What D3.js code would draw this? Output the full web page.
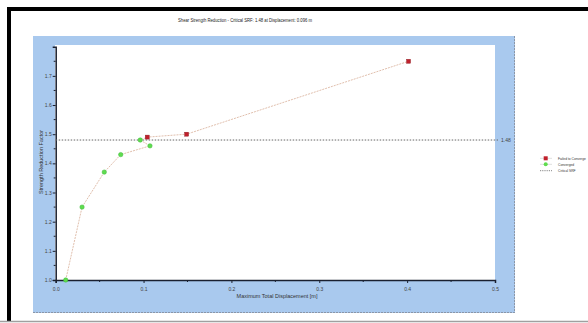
<!DOCTYPE html>
<html><head><meta charset="utf-8">
<script src="https://cdn.jsdelivr.net/npm/d3@7"></script>
<style>html,body{margin:0;padding:0;background:#fff;overflow:hidden}svg{display:block}text{font-family:"Liberation Sans",Arial,sans-serif}</style>
</head><body>
<script>
// Data (displacement in m, SRF), ordered by SRF
const disp   = [0.0114, 0.030, 0.0553, 0.074, 0.1073, 0.0962, 0.1042, 0.149, 0.4016];
const srf    = [1.00,   1.25,  1.37,   1.43,  1.46,   1.48,   1.49,   1.50,  1.75];
const status = ["Converged","Converged","Converged","Converged","Converged","Converged","Failed to Converge","Failed to Converge","Failed to Converge"];
const criticalSRF = 1.48;
const criticalDisp = 0.096;
const xTicks = [0.0, 0.1, 0.2, 0.3, 0.4, 0.5];
const yTicks = [1.0, 1.1, 1.2, 1.3, 1.4, 1.5, 1.6, 1.7];
const legendLabels = ["Failed to Converge", "Converged", "Critical SRF"];

const W = 588, H = 323;
const svg = d3.select("body").append("svg").attr("width", W).attr("height", H);

// frame
svg.append("line").attr("x1",7).attr("x2",W).attr("y1",9).attr("y2",9).attr("stroke","#000").attr("stroke-width",4);
svg.append("line").attr("x1",9).attr("x2",9).attr("y1",7).attr("y2",321).attr("stroke","#000").attr("stroke-width",4);
svg.append("line").attr("x1",0).attr("x2",W).attr("y1",321.5).attr("y2",321.5).attr("stroke","#a0a0a0").attr("stroke-width",1.5);

// blue panel
svg.append("rect").attr("x",33).attr("y",36).attr("width",482).attr("height",277).attr("fill","#a9c9ee");
svg.append("line").attr("x1",514.5).attr("x2",514.5).attr("y1",36).attr("y2",313).attr("stroke","#8a96a8").attr("stroke-dasharray","2,1");
svg.append("line").attr("x1",33).attr("x2",515).attr("y1",312.5).attr("y2",312.5).attr("stroke","#8a96a8").attr("stroke-dasharray","2,1");

const x = d3.scaleLinear().domain([0, 0.5]).range([55.7, 495]);
const y = d3.scaleLinear().domain([1.0, 1.8]).range([280, 46.7]);

// plot area
svg.append("rect").attr("x",55).attr("y",45).attr("width",440).attr("height",235).attr("fill","#fff");

// title
svg.append("text").attr("x",245).attr("y",22).attr("text-anchor","middle").attr("font-size",6).attr("fill","#222")
  .attr("textLength",134).attr("lengthAdjust","spacingAndGlyphs")
  .text(`Shear Strength Reduction - Critical SRF: ${criticalSRF.toFixed(2)} at Displacement: ${criticalDisp.toFixed(3)} m`);

// axes
const xAxis = d3.axisBottom(x).tickValues(xTicks).tickFormat(d3.format(".1f")).tickSize(3);
const gx = svg.append("g").attr("transform","translate(0,280)").call(xAxis);
const yAxis = d3.axisLeft(y).tickValues(yTicks).tickFormat(d3.format(".1f")).tickSize(3);
const gy = svg.append("g").attr("transform","translate(55.7,0)").call(yAxis);
[gx, gy].forEach(g => {
  g.select(".domain").attr("stroke","#1a2030").attr("stroke-width",1.5);
  g.selectAll(".tick line").attr("stroke","#1a2030");
  g.selectAll(".tick text").attr("font-size",5).attr("fill","#444").attr("font-family","Liberation Sans, Arial");
});
gx.selectAll(".tick text").attr("dy","0.9em");
gy.selectAll(".tick text").attr("x",-4);
// minor ticks
const xMinor = xTicks.slice(0,-1).map(v => v + 0.05);
svg.append("g").selectAll("line").data(xMinor).join("line")
  .attr("x1",d=>x(d)).attr("x2",d=>x(d)).attr("y1",280).attr("y2",282).attr("stroke","#1a2030");
const yMinor = yTicks.map(v => v + 0.05);
svg.append("g").selectAll("line").data(yMinor).join("line")
  .attr("x1",53.7).attr("x2",55.7).attr("y1",d=>y(d)).attr("y2",d=>y(d)).attr("stroke","#1a2030");

// axis titles
svg.append("text").attr("x",277).attr("y",298).attr("text-anchor","middle").attr("font-size",5.5).attr("fill","#333")
  .text("Maximum Total Displacement [m]");
svg.append("text").attr("transform","translate(43,162) rotate(-90)").attr("text-anchor","middle").attr("font-size",5.5).attr("fill","#333")
  .text("Strength Reduction Factor");

// critical SRF line
svg.append("line").attr("x1",55.7).attr("x2",498).attr("y1",y(criticalSRF)).attr("y2",y(criticalSRF))
  .attr("stroke","#666").attr("stroke-width",1).attr("stroke-dasharray","1.5,1.5");
svg.append("text").attr("x",501).attr("y",y(criticalSRF)+1.8).attr("font-size",5).attr("fill","#444").text(criticalSRF.toFixed(2));

// connecting line
const pts = disp.map((d,i)=>({x:d, y:srf[i], s:status[i]}));
svg.append("path").datum(pts)
  .attr("d", d3.line().x(d=>x(d.x)).y(d=>y(d.y)))
  .attr("fill","none").attr("stroke","#dcb8a4").attr("stroke-width",0.9).attr("stroke-dasharray","2,1");

// markers
svg.append("g").selectAll("circle").data(pts.filter(p=>p.s==="Converged")).join("circle")
  .attr("cx",d=>x(d.x)).attr("cy",d=>y(d.y)).attr("r",2.2).attr("fill","#5fdc4e").attr("stroke","#3cb83a").attr("stroke-width",0.5);
svg.append("g").selectAll("rect").data(pts.filter(p=>p.s!=="Converged")).join("rect")
  .attr("x",d=>x(d.x)-2).attr("y",d=>y(d.y)-2).attr("width",4).attr("height",4).attr("fill","#c0202c").attr("stroke","#8a1a20").attr("stroke-width",0.4);

// legend
const ly = [158.3, 164.3, 170.7];
legendLabels.forEach((lab,i)=>{
  const g = svg.append("g");
  if (i < 2) {
    g.append("line").attr("x1",540).attr("x2",552).attr("y1",ly[i]).attr("y2",ly[i]).attr("stroke","#c8c8c8").attr("stroke-width",0.6);
    if (i===0) g.append("rect").attr("x",543.7).attr("y",ly[i]-2).attr("width",4).attr("height",4).attr("fill","#c0202c");
    else g.append("circle").attr("cx",545.7).attr("cy",ly[i]).attr("r",2).attr("fill","#5fdc4e");
  } else {
    g.append("line").attr("x1",540).attr("x2",552).attr("y1",ly[i]).attr("y2",ly[i]).attr("stroke","#666").attr("stroke-width",0.8).attr("stroke-dasharray","1.2,1");
  }
  g.append("text").attr("x",558).attr("y",ly[i]+1.3).attr("font-size",3.3).attr("fill","#333").text(lab);
});
</script>
</body></html>
